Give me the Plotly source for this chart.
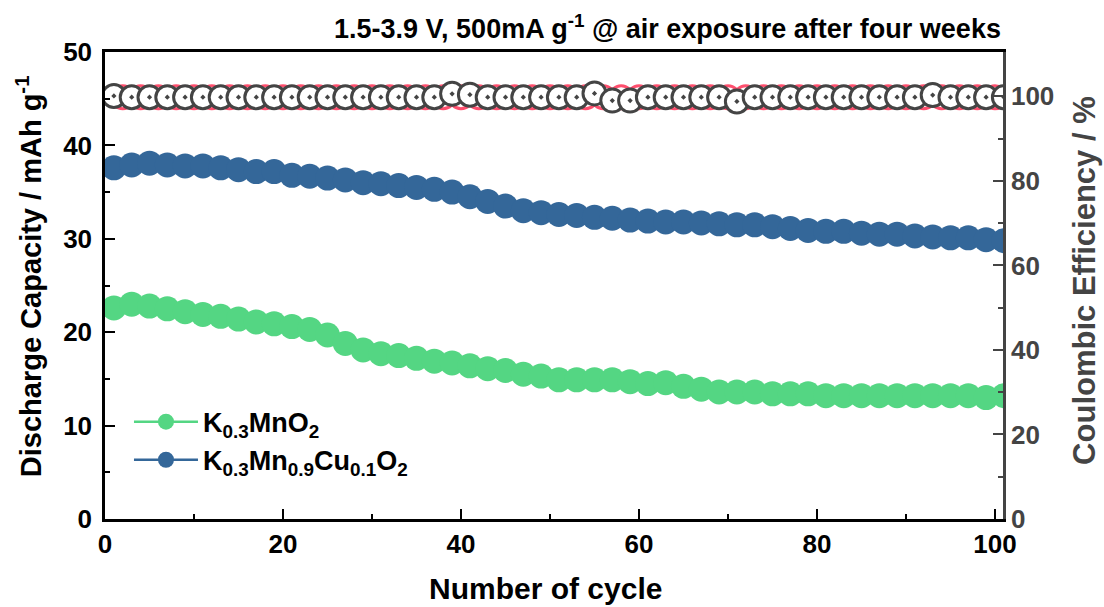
import plotly.graph_objects as go

cycles = [1, 3, 5, 7, 9, 11, 13, 15, 17, 19, 21, 23, 25, 27, 29, 31, 33, 35, 37, 39,
          41, 43, 45, 47, 49, 51, 53, 55, 57, 59, 61, 63, 65, 67, 69, 71, 73, 75, 77, 79,
          81, 83, 85, 87, 89, 91, 93, 95, 97, 99, 101]

cap_mno2 = [22.6, 23.0, 22.8, 22.5, 22.2, 21.9, 21.7, 21.4, 21.1, 20.9, 20.6, 20.3, 19.7, 18.8,
            18.1, 17.7, 17.5, 17.2, 16.9, 16.7, 16.4, 16.1, 15.9, 15.5, 15.3, 14.9, 14.9, 14.9,
            14.9, 14.7, 14.5, 14.6, 14.2, 13.9, 13.6, 13.6, 13.6, 13.4, 13.4, 13.4, 13.2, 13.2,
            13.2, 13.2, 13.2, 13.2, 13.2, 13.2, 13.2, 13.0, 13.2]

cap_cu = [37.6, 37.9, 38.1, 37.9, 37.8, 37.8, 37.6, 37.4, 37.2, 37.2, 36.8, 36.7, 36.5, 36.3,
          36.0, 35.9, 35.7, 35.5, 35.3, 35.0, 34.5, 34.0, 33.5, 33.0, 32.8, 32.6, 32.5, 32.3,
          32.2, 32.0, 31.9, 31.8, 31.8, 31.7, 31.6, 31.5, 31.5, 31.3, 31.1, 30.9, 30.8, 30.8,
          30.6, 30.5, 30.5, 30.3, 30.2, 30.1, 30.1, 29.9, 29.8]

ce_cu = [100.1, 99.8, 99.8, 99.8, 99.8, 99.8, 99.8, 99.8, 99.8, 99.8, 99.8, 99.8, 99.8, 99.8,
         99.8, 99.8, 99.8, 99.8, 99.8, 100.6, 100.4, 99.8, 99.8, 99.8, 99.8, 99.8, 99.8, 100.7,
         99.0, 99.0, 99.8, 99.8, 99.8, 99.8, 99.8, 98.8, 99.8, 99.8, 99.8, 99.8, 99.8, 99.8,
         99.8, 99.8, 99.8, 99.8, 100.3, 99.8, 99.8, 99.8, 99.8]

cycles_even = [2, 4, 6, 8, 10, 12, 14, 16, 18, 20, 22, 24, 26, 28, 30, 32, 34, 36, 38, 40,
               42, 44, 46, 48, 50, 52, 54, 56, 58, 60, 62, 64, 66, 68, 70, 72, 74, 76, 78, 80,
               82, 84, 86, 88, 90, 92, 94, 96, 98, 100]
ce_mno2 = [99.8, 99.8, 99.8, 99.8, 99.8, 99.8, 99.8, 99.8, 99.8, 99.8, 99.8, 99.8, 99.8, 99.8,
           99.8, 99.8, 99.8, 99.8, 99.8, 99.8, 99.8, 99.8, 99.8, 99.8, 99.8, 99.8, 99.8, 99.8,
           99.8, 99.8, 99.8, 99.8, 99.8, 99.8, 99.8, 99.8, 99.8, 99.8, 99.8, 99.8, 99.8, 99.8,
           99.8, 99.8, 99.8, 99.8, 99.8, 99.8, 99.8, 99.8]

x_title = "<b>Number of cycle</b>"
y_title = "<b>Discharge Capacity / mAh g<sup>-1</sup></b>"
y2_title = "<b>Coulombic Efficiency / %</b>"
top_title = "<b>1.5-3.9 V, 500mA g<sup>-1</sup> @ air exposure after four weeks</b>"

GREEN = "#54D683"
BLUE = "#346799"
GREY = "#444444"
FONT = "Liberation Sans, Arial, sans-serif"

fig = go.Figure()

fig.add_trace(go.Scatter(
    x=cycles, y=cap_mno2, mode="lines+markers", name="<b>K<sub>0.3</sub>MnO<sub>2</sub></b>",
    line=dict(color=GREEN, width=2.5), marker=dict(symbol="circle", size=25, color=GREEN),
))
fig.add_trace(go.Scatter(
    x=cycles, y=cap_cu, mode="lines+markers",
    name="<b>K<sub>0.3</sub>Mn<sub>0.9</sub>Cu<sub>0.1</sub>O<sub>2</sub></b>",
    line=dict(color=BLUE, width=2.5), marker=dict(symbol="circle", size=25, color=BLUE),
))
fig.add_trace(go.Scatter(
    x=cycles_even, y=ce_mno2, mode="markers", yaxis="y2", showlegend=False,
    marker=dict(symbol="circle", size=23, color="white", line=dict(color="#FF4F6E", width=3)),
))
fig.add_trace(go.Scatter(
    x=cycles, y=ce_cu, mode="markers", yaxis="y2", showlegend=False,
    marker=dict(symbol="circle-dot", size=23, color="white", line=dict(color=GREY, width=3)),
))

fig.update_layout(
    width=1104, height=607,
    margin=dict(l=105, r=101, t=52, b=88, autoexpand=False),
    paper_bgcolor="white", plot_bgcolor="white",
    font=dict(family=FONT, size=24, color="black"),
    showlegend=True,
    legend=dict(x=0.0267, y=0.26, xanchor="left", yanchor="top", bgcolor="rgba(0,0,0,0)",
                font=dict(size=27, color="black"), itemsizing="trace", itemwidth=64),
    xaxis=dict(
        range=[0, 100.9], tickvals=[0, 20, 40, 60, 80, 100], automargin=False,
        showline=True, linecolor="black", linewidth=2.5, mirror=True,
        ticks="inside", ticklen=10, tickwidth=2, tickcolor="black",
        minor=dict(ticks="inside", ticklen=5, tickwidth=2, tickcolor="black",
                   tickvals=[10, 30, 50, 70, 90]),
        showgrid=False, zeroline=False,
        tickfont=dict(size=26, color="black", family=FONT, weight="bold"),
    ),
    yaxis=dict(
        range=[0, 50], tickvals=[0, 10, 20, 30, 40, 50], automargin=False,
        showline=True, linecolor="black", linewidth=2.5,
        ticks="inside", ticklen=10, tickwidth=2, tickcolor="black",
        minor=dict(ticks="inside", ticklen=5, tickwidth=2, tickcolor="black",
                   tickvals=[5, 15, 25, 35, 45]),
        showgrid=False, zeroline=False, ticklabelstandoff=5,
        tickfont=dict(size=26, color="black", family=FONT, weight="bold"),
    ),
    yaxis2=dict(
        overlaying="y", side="right", automargin=False,
        range=[0, 110.5], tickvals=[0, 20, 40, 60, 80, 100],
        showline=True, linecolor=GREY, linewidth=2.5,
        ticks="inside", ticklen=10, tickwidth=2, tickcolor=GREY,
        minor=dict(ticks="inside", ticklen=5, tickwidth=2, tickcolor=GREY,
                   tickvals=[10, 30, 50, 70, 90]),
        showgrid=False, zeroline=False,
        tickfont=dict(size=26, color=GREY, family=FONT, weight="bold"),
    ),
    annotations=[
        dict(text=top_title, xref="paper", yref="paper", x=1.0, y=1.0,
             xanchor="right", yanchor="bottom", yshift=6, showarrow=False,
             font=dict(size=27, color="black", family=FONT)),
        dict(text=x_title, xref="paper", yref="paper", x=0.491, y=-0.148,
             xanchor="center", yanchor="middle", showarrow=False,
             font=dict(size=30, color="black", family=FONT)),
        dict(text=y_title, xref="paper", yref="paper", x=-0.0846, y=0.52,
             xanchor="center", yanchor="middle", textangle=-90, showarrow=False,
             font=dict(size=29, color="black", family=FONT)),
        dict(text=y2_title, xref="paper", yref="paper", x=1.0913, y=0.512,
             xanchor="center", yanchor="middle", textangle=-90, showarrow=False,
             font=dict(size=31, color=GREY, family=FONT)),
    ],
)

fig.write_html("out.html")
